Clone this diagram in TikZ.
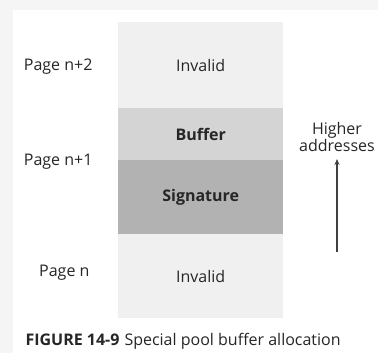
\documentclass[tikz,border=0pt]{standalone}
\usepackage{fontspec}
\setmainfont{Open Sans}
\usetikzlibrary{arrows.meta}
\begin{document}
\begin{tikzpicture}[x=1pt, y=-1pt,
  every node/.style={font=\fontsize{16}{17}\selectfont, text=black!85},
  band/.style={rectangle, minimum width=165pt, anchor=north west, inner sep=0pt}]
\useasboundingbox (0,0) rectangle (378,353);
\fill[black!4] (0,0) rectangle (378,353);
\fill[white] (13,10) rectangle (378,353);
% memory column
\node[band, fill=black!6, minimum height=86pt] (inv2) at (118,22) {Invalid};
\node[band, fill=black!17, minimum height=52pt, font=\fontsize{16}{17}\selectfont\bfseries] (buf) at (118,108) {Buffer};
\node[band, fill=black!30, minimum height=74pt, font=\fontsize{16}{17}\selectfont\bfseries] (sig) at (118,160) {Signature};
\node[band, fill=black!6, minimum height=84pt] (inv0) at (118,234) {Invalid};
% page labels
\node[anchor=east] (p2) at (96,67) {Page n+2};
\node[anchor=east] (p1) at (96,162) {Page n+1};
\node[anchor=east] (p0) at (93,273) {Page n};
% direction
\node[align=center, anchor=south, inner sep=1pt] (high) at (337,153) {Higher\\addresses};
\coordinate (tail) at (337,252);
\draw[-{Stealth[length=6pt,width=5pt]}, line width=1.2pt, black!75, shorten >=6pt] (tail) -- (high.south);
% caption
\node[anchor=west] (cap) at (22,341) {\textbf{FIGURE 14-9}\hspace{5pt}Special pool buffer allocation};
\end{tikzpicture}
\end{document}
